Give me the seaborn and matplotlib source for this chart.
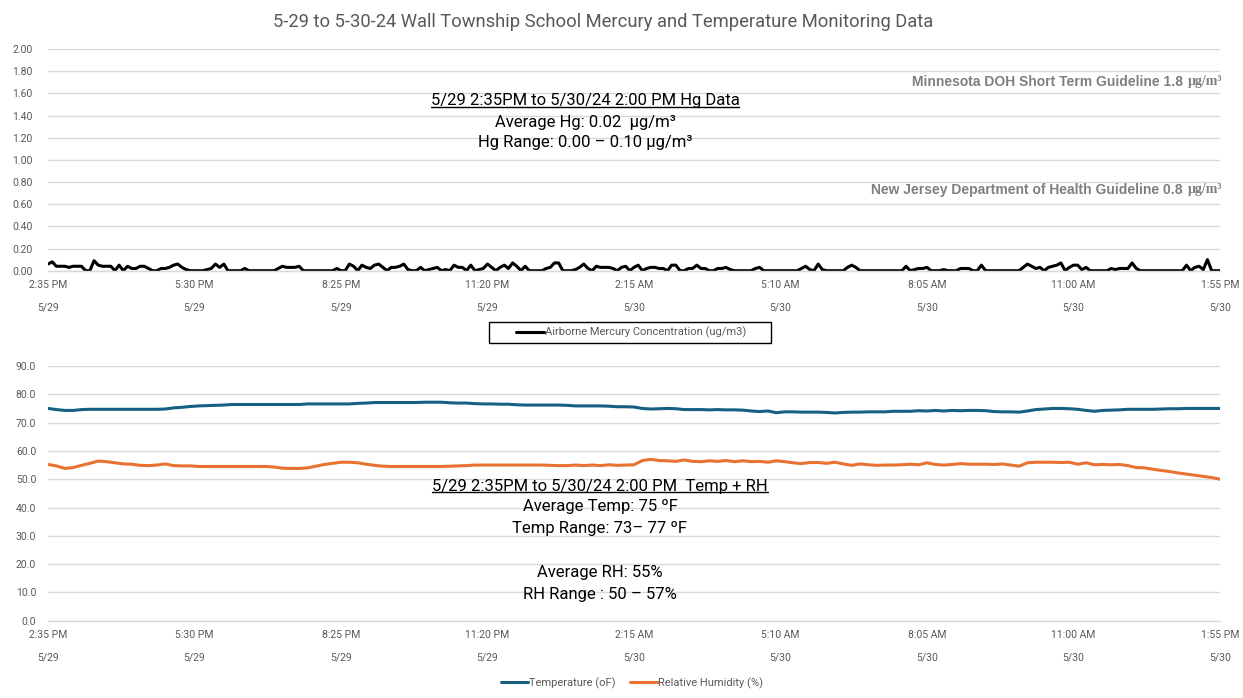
import numpy as np
import pandas as pd
import matplotlib
matplotlib.use("Agg")
import matplotlib.pyplot as plt
from matplotlib.lines import Line2D
from matplotlib.patches import Rectangle
import seaborn as sns

# ---------------- data ----------------
hg = [0.06, 0.08, 0.04, 0.04, 0.04, 0.03, 0.04, 0.04, 0.04, 0.00,
      0.00, 0.09, 0.05, 0.04, 0.04, 0.04, 0.00, 0.05, 0.00, 0.04,
      0.02, 0.02, 0.04, 0.04, 0.02, 0.00, 0.00, 0.02, 0.02, 0.03,
      0.05, 0.06, 0.03, 0.01, 0.00, 0.00, 0.00, 0.00, 0.01, 0.02,
      0.06, 0.03, 0.06, 0.00, 0.00, 0.00, 0.00, 0.02, 0.00, 0.00,
      0.00, 0.00, 0.00, 0.00, 0.00, 0.02, 0.04, 0.03, 0.03, 0.03,
      0.04, 0.00, 0.00, 0.00, 0.00, 0.00, 0.00, 0.00, 0.00, 0.02,
      0.00, 0.00, 0.06, 0.04, 0.00, 0.05, 0.03, 0.02, 0.05, 0.06,
      0.03, 0.00, 0.03, 0.03, 0.04, 0.06, 0.01, 0.00, 0.00, 0.03,
      0.00, 0.01, 0.02, 0.03, 0.00, 0.01, 0.00, 0.05, 0.03, 0.03,
      0.00, 0.05, 0.00, 0.01, 0.02, 0.06, 0.03, 0.00, 0.03, 0.05,
      0.02, 0.07, 0.04, 0.00, 0.04, 0.00, 0.00, 0.00, 0.00, 0.02,
      0.03, 0.07, 0.07, 0.00, 0.00, 0.00, 0.01, 0.03, 0.06, 0.02,
      0.00, 0.04, 0.03, 0.03, 0.03, 0.02, 0.00, 0.03, 0.04, 0.00,
      0.03, 0.05, 0.00, 0.02, 0.03, 0.03, 0.02, 0.02, 0.00, 0.05,
      0.05, 0.00, 0.00, 0.02, 0.02, 0.05, 0.02, 0.02, 0.00, 0.00,
      0.02, 0.02, 0.03, 0.01, 0.00, 0.00, 0.00, 0.00, 0.00, 0.02,
      0.03, 0.00, 0.00, 0.00, 0.00, 0.00, 0.00, 0.00, 0.00, 0.00,
      0.02, 0.04, 0.01, 0.00, 0.06, 0.01, 0.00, 0.00, 0.00, 0.00,
      0.00, 0.03, 0.05, 0.03, 0.00, 0.00, 0.00, 0.00, 0.00, 0.00,
      0.00, 0.00, 0.00, 0.00, 0.00, 0.04, 0.00, 0.01, 0.02, 0.02,
      0.03, 0.00, 0.00, 0.00, 0.01, 0.00, 0.00, 0.00, 0.02, 0.02,
      0.02, 0.00, 0.00, 0.05, 0.00, 0.00, 0.00, 0.00, 0.00, 0.00,
      0.00, 0.00, 0.00, 0.03, 0.06, 0.04, 0.02, 0.03, 0.00, 0.03,
      0.04, 0.05, 0.07, 0.00, 0.03, 0.05, 0.05, 0.01, 0.03, 0.00,
      0.00, 0.00, 0.00, 0.00, 0.02, 0.01, 0.02, 0.02, 0.02, 0.07,
      0.02, 0.00, 0.00, 0.00, 0.00, 0.00, 0.00, 0.00, 0.00, 0.00,
      0.00, 0.00, 0.05, 0.00, 0.03, 0.04, 0.01, 0.10, 0.00, 0.00, 0.00]

temp = [75.0, 74.6, 74.3, 74.3, 74.6, 74.7, 74.7, 74.7, 74.7, 74.7,
        74.7, 74.7, 74.7, 74.7, 74.8, 75.2, 75.4, 75.7, 75.9, 76.0,
        76.1, 76.2, 76.4, 76.4, 76.4, 76.4, 76.4, 76.4, 76.4, 76.4,
        76.4, 76.6, 76.6, 76.6, 76.6, 76.6, 76.6, 76.8, 76.9, 77.1,
        77.1, 77.1, 77.1, 77.1, 77.1, 77.2, 77.2, 77.2, 77.0, 76.9,
        76.9, 76.7, 76.6, 76.6, 76.5, 76.5, 76.3, 76.2, 76.2, 76.2,
        76.2, 76.2, 76.1, 75.9, 75.9, 75.9, 75.9, 75.8, 75.6, 75.6,
        75.5, 75.0, 74.8, 74.9, 75.0, 74.9, 74.6, 74.6, 74.6, 74.5,
        74.6, 74.5, 74.5, 74.4, 74.1, 73.9, 74.1, 73.5, 73.8, 73.8,
        73.7, 73.7, 73.7, 73.6, 73.4, 73.6, 73.7, 73.7, 73.8, 73.8,
        73.8, 74.0, 74.0, 74.0, 74.2, 74.1, 74.3, 74.1, 74.3, 74.2,
        74.3, 74.3, 74.2, 73.9, 73.8, 73.8, 73.7, 74.1, 74.6, 74.8,
        75.0, 75.0, 74.9, 74.7, 74.3, 74.0, 74.3, 74.4, 74.5, 74.7,
        74.7, 74.7, 74.7, 74.8, 74.9, 74.9, 75.0, 75.0, 75.0, 75.0,
        75.0]

rh = [55.2, 54.7, 53.8, 54.1, 54.9, 55.6, 56.4, 56.2, 55.8, 55.4,
      55.3, 54.9, 54.8, 55.0, 55.4, 54.8, 54.7, 54.7, 54.5, 54.5,
      54.5, 54.5, 54.5, 54.5, 54.5, 54.5, 54.5, 54.3, 53.9, 53.8,
      53.8, 54.0, 54.6, 55.2, 55.6, 56.0, 56.0, 55.8, 55.3, 54.9,
      54.6, 54.5, 54.5, 54.5, 54.5, 54.5, 54.5, 54.5, 54.6, 54.7,
      54.8, 55.0, 55.0, 55.0, 55.0, 55.0, 55.0, 55.0, 55.0, 55.0,
      54.9, 54.8, 54.8, 55.0, 54.8, 55.0, 54.8, 55.1, 54.9, 55.0,
      55.1, 56.6, 57.0, 56.6, 56.5, 56.3, 56.8, 56.3, 56.2, 56.5,
      56.3, 56.6, 56.2, 56.5, 56.2, 56.3, 56.0, 56.5, 56.2, 55.8,
      55.5, 55.9, 55.9, 55.6, 56.0, 55.4, 54.9, 55.4, 55.1, 54.9,
      55.0, 55.0, 55.1, 55.3, 55.1, 55.8, 55.2, 55.0, 55.2, 55.5,
      55.3, 55.3, 55.3, 55.2, 55.4, 55.0, 54.6, 55.8, 56.0, 56.0,
      56.0, 55.9, 56.0, 55.3, 55.8, 55.1, 55.2, 55.1, 55.2, 54.8,
      54.1, 54.0, 53.5, 53.1, 52.7, 52.2, 51.8, 51.4, 51.0, 50.6,
      50.0]

tick_times = ["2:35 PM", "5:30 PM", "8:25 PM", "11:20 PM", "2:15 AM",
              "5:10 AM", "8:05 AM", "11:00 AM", "1:55 PM"]
tick_dates = ["5/29", "5/29", "5/29", "5/29", "5/30", "5/30", "5/30", "5/30", "5/30"]

start = "2024-05-29 14:35"
hg_time = pd.date_range(start, periods=len(hg), freq="5min")
th_time = pd.date_range(start, periods=len(temp), freq="10min")
tick_pos = pd.date_range(start, periods=len(tick_times), freq="175min")

hg_df = pd.DataFrame({"time": hg_time, "hg": hg})
th_df = pd.DataFrame({"time": th_time, "temp": temp, "rh": rh})

# ---------------- style ----------------
sns.set_theme(style="white")
plt.rcParams['font.family'] = ['Roboto', 'DejaVu Sans']

W, H = 1243, 698
fig = plt.figure(figsize=(W / 100, H / 100), dpi=100)

GRID = '#D9D9D9'
LBL = '#595959'

ax1 = fig.add_axes([48 / W, 1 - 270.7 / H, 1172 / W, (270.7 - 49) / H])
ax2 = fig.add_axes([48 / W, 1 - 620.7 / H, 1172 / W, (620.7 - 366) / H])

sns.lineplot(data=hg_df, x="time", y="hg", ax=ax1, color="black", linewidth=2.2,
             label="Airborne Mercury Concentration (ug/m3)")
sns.lineplot(data=th_df, x="time", y="temp", ax=ax2, color="#156082", linewidth=2.2,
             label="Temperature (oF)")
sns.lineplot(data=th_df, x="time", y="rh", ax=ax2, color="#E97132", linewidth=2.2,
             label="Relative Humidity (%)")

xlabels = [f"{t}\n{d}" for t, d in zip(tick_times, tick_dates)]

for ax, yt, fmt, ypad in [(ax1, np.arange(0, 2.01, 0.2), "{:.2f}", 11),
                          (ax2, np.arange(0, 90.1, 10), "{:.1f}", 8.5)]:
    ax.set_xlim(tick_pos[0], tick_pos[-1])
    ax.set_ylim(yt[0], yt[-1])
    ax.set_xticks(tick_pos)
    ax.set_xticklabels(xlabels)
    ax.set_yticks(yt)
    ax.set_yticklabels([fmt.format(v) for v in yt])
    ax.set_xlabel("")
    ax.set_ylabel("")
    ax.grid(axis='y', color=GRID, linewidth=1)
    ax.grid(axis='x', visible=False)
    for s in ['top', 'right', 'left']:
        ax.spines[s].set_visible(False)
    ax.spines['bottom'].set_color(GRID)
    ax.spines['bottom'].set_linewidth(1)
    ax.tick_params(axis='x', which='major', length=0, labelsize=7.5, labelcolor=LBL, pad=6.5)
    ax.tick_params(axis='y', which='major', length=0, labelsize=7.5, labelcolor=LBL, pad=ypad)
    ax.set_xticks([tick_pos[0]], minor=True)
    ax.tick_params(axis='x', which='minor', length=29, width=1, color=GRID, direction='out')
    for lbl in ax.get_xticklabels():
        lbl.set_linespacing(2.6)
    ax.set_axisbelow(True)

# legends
leg1 = ax1.legend(loc='center', bbox_to_anchor=(631 / W, 1 - 332.5 / H),
                  bbox_transform=fig.transFigure, frameon=False,
                  fontsize=8, handlelength=2.5, handletextpad=0.05, borderpad=0.3)
for t in leg1.get_texts():
    t.set_color(LBL)
fig.add_artist(Rectangle((489 / W, 1 - 343 / H), (771 - 489) / W, 21 / H,
                         transform=fig.transFigure, fill=False, edgecolor='black',
                         linewidth=1))

leg2 = ax2.legend(loc='center', bbox_to_anchor=(632 / W, 1 - 683 / H),
                  bbox_transform=fig.transFigure, frameon=False, ncol=2,
                  fontsize=8, handlelength=2.5, handletextpad=0.05, columnspacing=1.3)
for t in leg2.get_texts():
    t.set_color(LBL)

# title
fig.text(603 / W, 1 - 22 / H,
         "5-29 to 5-30-24 Wall Township School Mercury and Temperature Monitoring Data",
         ha='center', va='center', fontsize=13.2, color=LBL)

renderer = fig.canvas.get_renderer()


def underline(txt):
    bb = txt.get_window_extent(renderer)
    inv = fig.transFigure.inverted()
    (x0, y0), (x1, _) = inv.transform([(bb.x0, bb.y0 + 1.5), (bb.x1, bb.y0 + 1.5)])
    fig.add_artist(Line2D([x0, x1], [y0, y0], transform=fig.transFigure,
                          color='black', linewidth=1.0))


TXT = 12
t = fig.text(585 / W, 1 - 101 / H, "5/29 2:35PM to 5/30/24 2:00 PM Hg Data",
             ha='center', va='center', fontsize=TXT, color='black')
underline(t)
fig.text(585 / W, 1 - 122 / H, "Average Hg: 0.02  μg/m³", ha='center', va='center',
         fontsize=TXT, color='black')
fig.text(585 / W, 1 - 143 / H, "Hg Range: 0.00 – 0.10 μg/m³", ha='center', va='center',
         fontsize=TXT, color='black')

t = fig.text(600 / W, 1 - 486 / H, "5/29 2:35PM to 5/30/24 2:00 PM  Temp + RH",
             ha='center', va='center', fontsize=TXT, color='black')
underline(t)
for yy, s in [(507, "Average Temp: 75 ºF"), (528, "Temp Range: 73– 77 ºF"),
              (573, "Average RH: 55%"), (594, "RH Range : 50 – 57%")]:
    fig.text(600 / W, 1 - yy / H, s, ha='center', va='center', fontsize=TXT, color='black')

# guideline labels
GL = '#7F7F7F'


def guideline(ycenter, main):
    u = fig.text(1222 / W, 1 - ycenter / H, "μg/m³", ha='right', va='center',
                 fontsize=10, fontweight='bold', color=GL,
                 family=['Liberation Serif', 'DejaVu Serif'])
    bb = u.get_window_extent(renderer)
    fig.text((bb.x0 - 1) / W, 1 - ycenter / H, main, ha='right', va='center',
             fontsize=10, fontweight='bold', color=GL,
             family=['Liberation Sans Narrow', 'Liberation Sans', 'DejaVu Sans'])


guideline(82, "Minnesota DOH Short Term Guideline 1.8 ")
guideline(190, "New Jersey Department of Health Guideline 0.8 ")

fig.savefig("out.png", dpi=100)
